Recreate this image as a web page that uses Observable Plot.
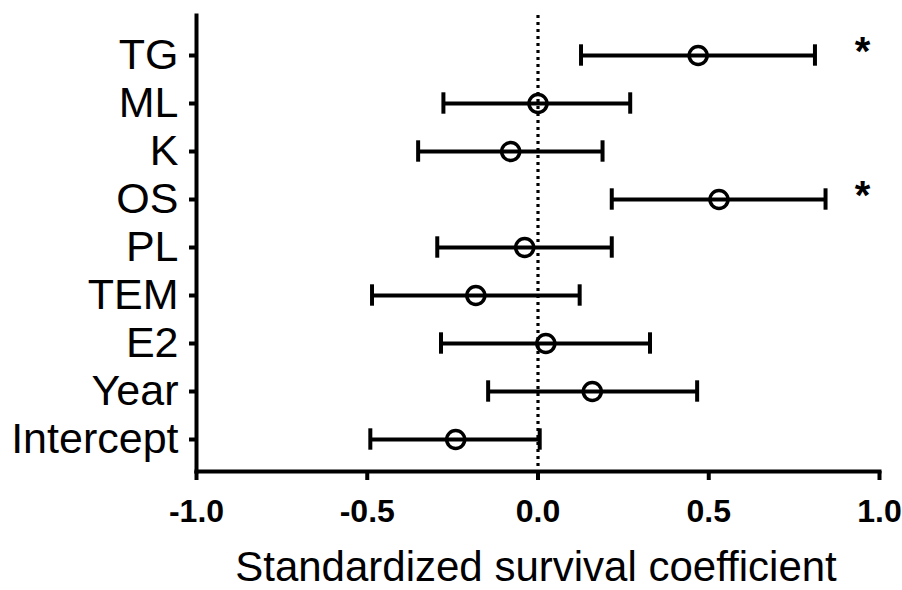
<!DOCTYPE html>
<html>
<head>
<meta charset="utf-8">
<script src="https://cdn.jsdelivr.net/npm/d3@7"></script>
<script src="https://cdn.jsdelivr.net/npm/@observablehq/plot@0.6"></script>
<style>
  html, body { margin: 0; padding: 0; background: white; }
</style>
</head>
<body>
<div id="chart"></div>
<script>
// ---- data ----
const labels = ["TG", "ML", "K", "OS", "PL", "TEM", "E2", "Year", "Intercept"];
const estimate = [0.469, 0.0, -0.080, 0.530, -0.039, -0.182, 0.023, 0.159, -0.241];
const lower    = [0.126, -0.277, -0.351, 0.216, -0.295, -0.486, -0.284, -0.146, -0.491];
const upper    = [0.811, 0.270, 0.189, 0.842, 0.216, 0.122, 0.328, 0.466, 0.005];
const signif   = ["*", "", "", "*", "", "", "", "", ""];
const xTicks   = [-1, -0.5, 0, 0.5, 1];
const starX    = 0.95;
const xLabel   = "Standardized survival coefficient";

const rows = labels.map((name, i) => ({
  name, est: estimate[i], lo: lower[i], hi: upper[i], sig: signif[i], starX
}));

const font = "'Liberation Sans', Arial, Helvetica, sans-serif";
const capInset = 13.3;
const lw = 4;

const chart = Plot.plot({
  width: 902,
  height: 590,
  marginLeft: 196,
  marginRight: 23,
  marginTop: 15,
  marginBottom: 119,
  style: { fontFamily: font, color: "black", background: "white" },
  x: { domain: [-1, 1] },
  y: { type: "band", domain: labels, range: [27.7, 465.3], padding: 0 },
  marks: [
    Plot.ruleX([0], { stroke: "black", strokeWidth: 3.2, strokeDasharray: "3,4" }),
    Plot.ruleY(rows, { y: "name", x1: "lo", x2: "hi", stroke: "black", strokeWidth: lw }),
    Plot.tickX(rows, { x: "lo", y: "name", stroke: "black", strokeWidth: lw, insetTop: capInset, insetBottom: capInset }),
    Plot.tickX(rows, { x: "hi", y: "name", stroke: "black", strokeWidth: lw, insetTop: capInset, insetBottom: capInset }),
    Plot.dot(rows, { x: "est", y: "name", r: 9, stroke: "black", strokeWidth: 3.5, fill: "none" }),
    Plot.text(rows, { x: "starX", y: "name", text: "sig", fontSize: 40, fontWeight: "bold", dy: -3 }),
    Plot.frame({ anchor: "left", stroke: "black", strokeWidth: lw }),
    Plot.frame({ anchor: "bottom", stroke: "black", strokeWidth: lw }),
    Plot.axisY({ tickSize: 7, tickPadding: 11, fontSize: 43, strokeWidth: lw, label: null }),
    Plot.axisX({ ticks: xTicks, tickFormat: d => d.toFixed(1), tickSize: 9, tickPadding: 19,
                 fontSize: 32, fontWeight: "bold", strokeWidth: lw, label: null }),
    Plot.text([xLabel], { frameAnchor: "bottom", lineAnchor: "middle", dy: 96, dx: -2, fontSize: 42 })
  ]
});

document.getElementById("chart").appendChild(chart);
</script>
</body>
</html>
